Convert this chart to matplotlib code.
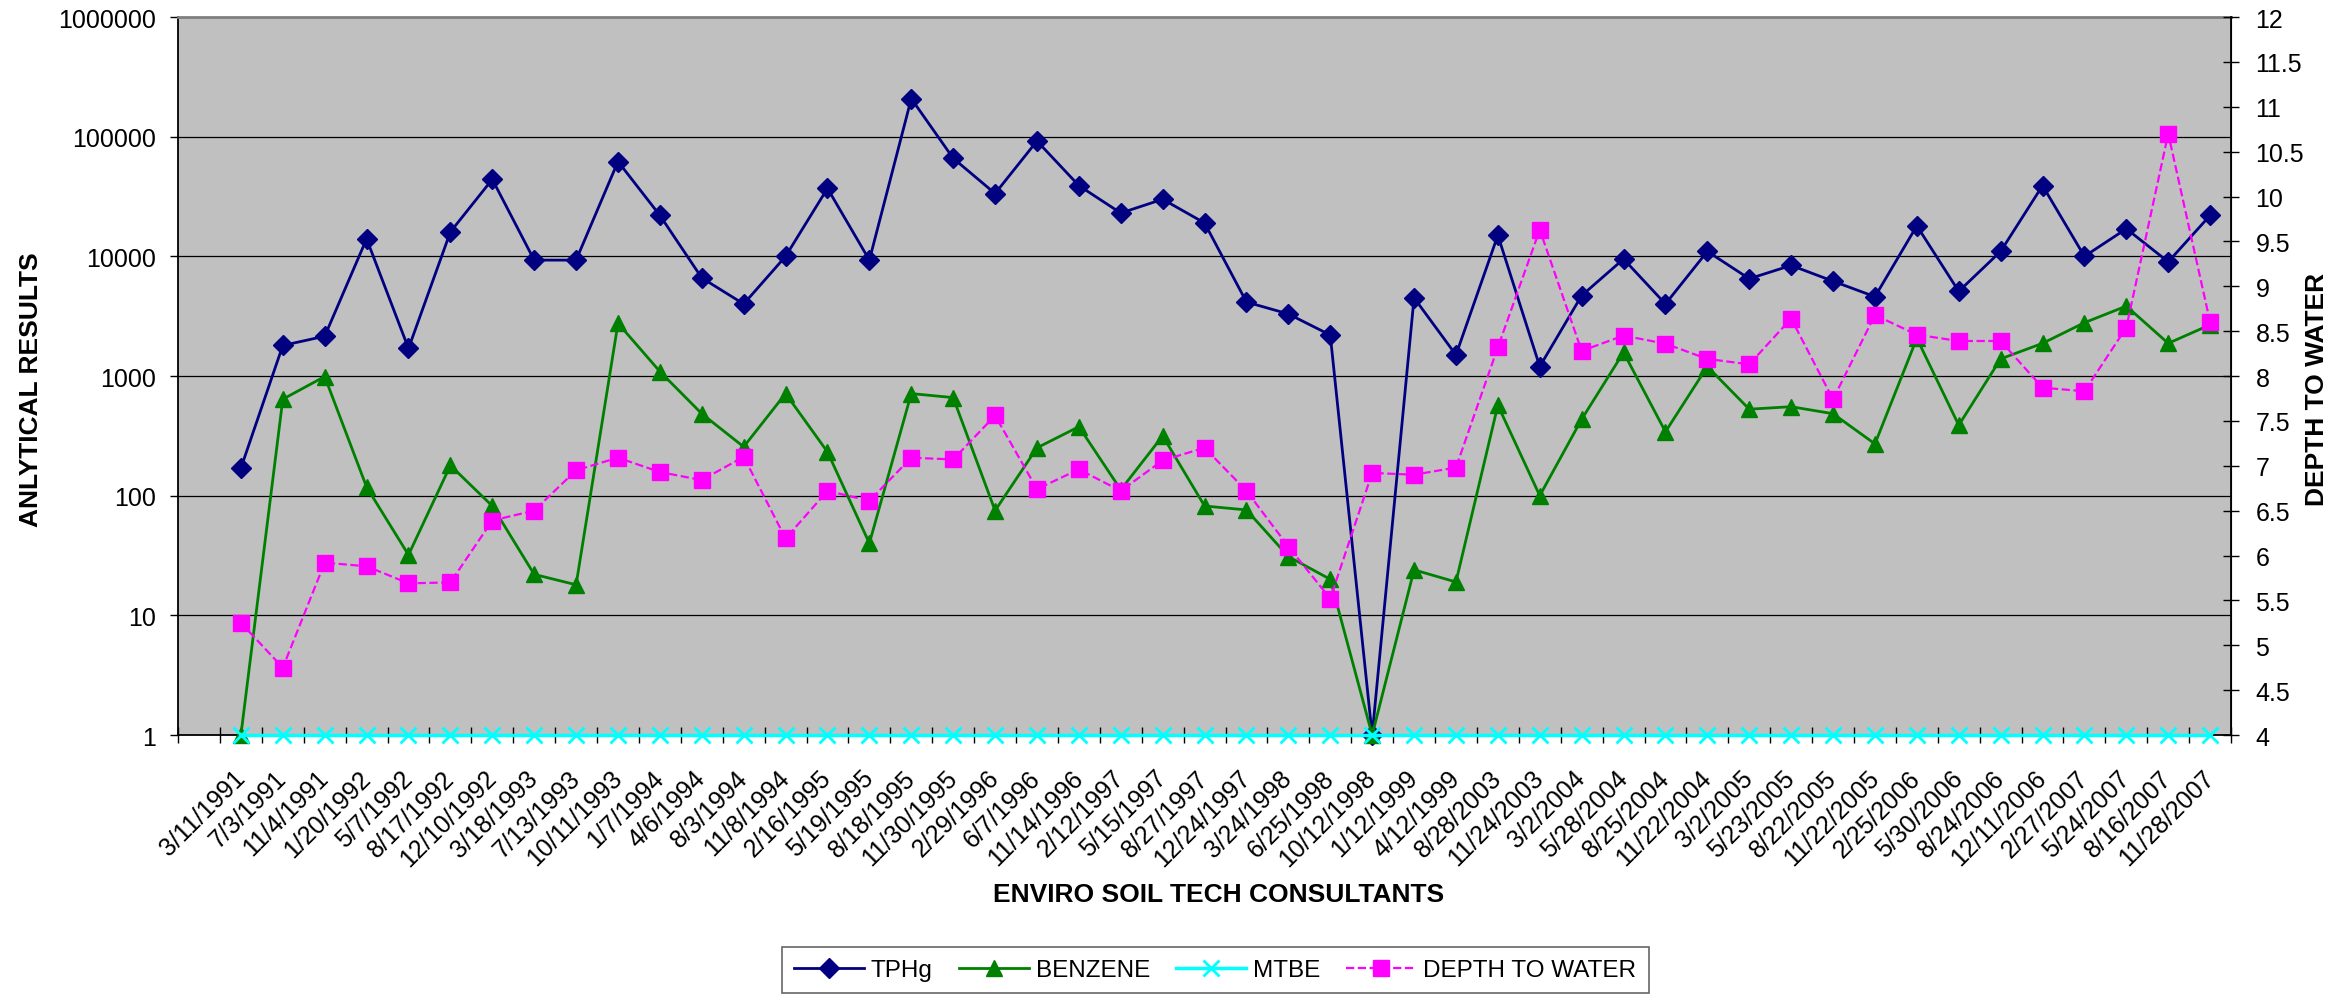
import matplotlib
matplotlib.use('Agg')
import matplotlib.pyplot as plt
import numpy as np

plt.rcParams['font.family'] = ['Liberation Sans', 'DejaVu Sans']

# sampling dates (one empty category sits before the first one)
dates = ['3/11/1991', '7/3/1991', '11/4/1991', '1/20/1992', '5/7/1992', '8/17/1992',
         '12/10/1992', '3/18/1993', '7/13/1993', '10/11/1993', '1/7/1994', '4/6/1994',
         '8/3/1994', '11/8/1994', '2/16/1995', '5/19/1995', '8/18/1995', '11/30/1995',
         '2/29/1996', '6/7/1996', '11/14/1996', '2/12/1997', '5/15/1997', '8/27/1997',
         '12/24/1997', '3/24/1998', '6/25/1998', '10/12/1998', '1/12/1999', '4/12/1999',
         '8/28/2003', '11/24/2003', '3/2/2004', '5/28/2004', '8/25/2004', '11/22/2004',
         '3/2/2005', '5/23/2005', '8/22/2005', '11/22/2005', '2/25/2006', '5/30/2006',
         '8/24/2006', '12/11/2006', '2/27/2007', '5/24/2007', '8/16/2007', '11/28/2007']

tphg = [170, 1800, 2150, 14000, 1700, 16000, 44000, 9300, 9300, 62000, 22000, 6600,
        4000, 10000, 37000, 9300, 208000, 66000, 33500, 92000, 39000, 23000, 30000, 19000,
        4150, 3300, 2200, 1, 4500, 1500, 15000, 1200, 4700, 9500, 4000, 11000,
        6500, 8400, 6200, 4600, 18000, 5100, 11000, 39000, 10000, 17000, 9000, 22000]

benzene = [1, 640, 990, 118, 32, 179, 82, 22, 18, 2760, 1090, 484,
           256, 713, 232, 40, 713, 660, 75, 251, 377, 112, 316, 82,
           76, 31, 20, 1, 24, 19, 570, 100, 435, 1575, 342, 1200,
           528, 554, 484, 271, 2065, 388, 1390, 1875, 2790, 3840, 1875, 2680]

mtbe = [1, 1, 1, 1, 1, 1, 1, 1, 1, 1, 1, 1,
        1, 1, 1, 1, 1, 1, 1, 1, 1, 1, 1, 1,
        1, 1, 1, 1, 1, 1, 1, 1, 1, 1, 1, 1,
        1, 1, 1, 1, 1, 1, 1, 1, 1, 1, 1, 1]

depth = [5.25, 4.75, 5.92, 5.88, 5.69, 5.70, 6.39, 6.50, 6.95, 7.09, 6.93, 6.84,
         7.10, 6.19, 6.72, 6.61, 7.09, 7.07, 7.56, 6.74, 6.96, 6.72, 7.06, 7.20,
         6.72, 6.10, 5.52, 6.92, 6.90, 6.98, 8.32, 9.63, 8.28, 8.45, 8.36, 8.19,
         8.13, 8.64, 7.74, 8.68, 8.46, 8.39, 8.39, 7.87, 7.83, 8.54, 10.70, 8.60]

left_ticks = [1, 10, 100, 1000, 10000, 100000, 1000000]

fig = plt.figure(figsize=(23.49, 9.95), dpi=100)
ax = fig.add_axes([0.0758, 0.2603, 0.8740, 0.7216])
ax.set_facecolor('#C0C0C0')

x = np.arange(len(dates))

ax.plot(x, tphg, color='#000080', lw=2, marker='D', ms=10, clip_on=False, zorder=3, label='TPHg')
ax.plot(x, benzene, color='#008000', lw=2, marker='^', ms=12, clip_on=False, zorder=3, label='BENZENE')
ax.plot(x, mtbe, color='#00FFFF', lw=2.5, marker='x', ms=11, mew=2, clip_on=False, zorder=3, label='MTBE')

ax.set_yscale('log')
ax.set_ylim(1, 1000000)
ax.set_xlim(-1.5, len(dates) - 0.5)
ax.set_yticks(left_ticks)
ax.set_yticklabels([str(v) for v in left_ticks])
ax.yaxis.set_minor_locator(matplotlib.ticker.NullLocator())
ax.yaxis.grid(True, color='black', lw=0.9)
ax.tick_params(axis='y', which='major', direction='out', length=6, width=1, labelsize=18, pad=10)

# date labels end right below their category, slanted at 45 degrees
ax.set_xticks(x)
ax.set_xticklabels(dates, rotation=45, ha='right', va='center', rotation_mode='anchor')
ax.set_xticks(np.arange(-1.5, len(dates), 1), minor=True)
ax.tick_params(axis='x', which='major', length=0, labelsize=18, pad=28)
ax.tick_params(axis='x', which='minor', direction='inout', length=11, width=1)

ax.spines['top'].set_color('#808080')
ax.spines['top'].set_linewidth(2)
ax.spines['left'].set_linewidth(1.3)
ax.spines['bottom'].set_linewidth(1.3)

ax.set_ylabel('ANLYTICAL RESULTS', fontsize=19, fontweight='bold')
ax.yaxis.set_label_coords(-0.066, 0.482)
ax.set_xlabel('ENVIRO SOIL TECH CONSULTANTS', fontsize=19, fontweight='bold')
ax.xaxis.set_label_coords(0.507, -0.205)

ax2 = ax.twinx()
ax2.plot(x, depth, color='#FF00FF', lw=1.6, ls='--', marker='s', ms=11, clip_on=False, label='DEPTH TO WATER')
ax2.set_ylim(4, 12)
ax2.set_yticks(np.arange(4, 12.01, 0.5))
ax2.yaxis.set_major_formatter(matplotlib.ticker.FormatStrFormatter('%g'))
ax2.tick_params(axis='y', direction='inout', length=11, width=1, labelsize=18, pad=12)
ax2.spines['right'].set_linewidth(1.3)
ax2.spines['top'].set_visible(False)
ax2.spines['left'].set_visible(False)
ax2.spines['bottom'].set_visible(False)
ax2.set_ylabel('DEPTH TO WATER', fontsize=19, fontweight='bold', rotation=90)
ax2.yaxis.set_label_coords(1.036, 0.482)

h1, l1 = ax.get_legend_handles_labels()
h2, l2 = ax2.get_legend_handles_labels()
leg = fig.legend(h1 + h2, l1 + l2, loc='center', bbox_to_anchor=(0.5173, 0.024), ncol=4,
                 fontsize=17.5, frameon=True, fancybox=False, edgecolor='#404040',
                 handlelength=2.88, handletextpad=0.29, columnspacing=1.07, borderpad=0.5)
leg.get_frame().set_linewidth(1.2)

plt.savefig('out.png', dpi=100)
